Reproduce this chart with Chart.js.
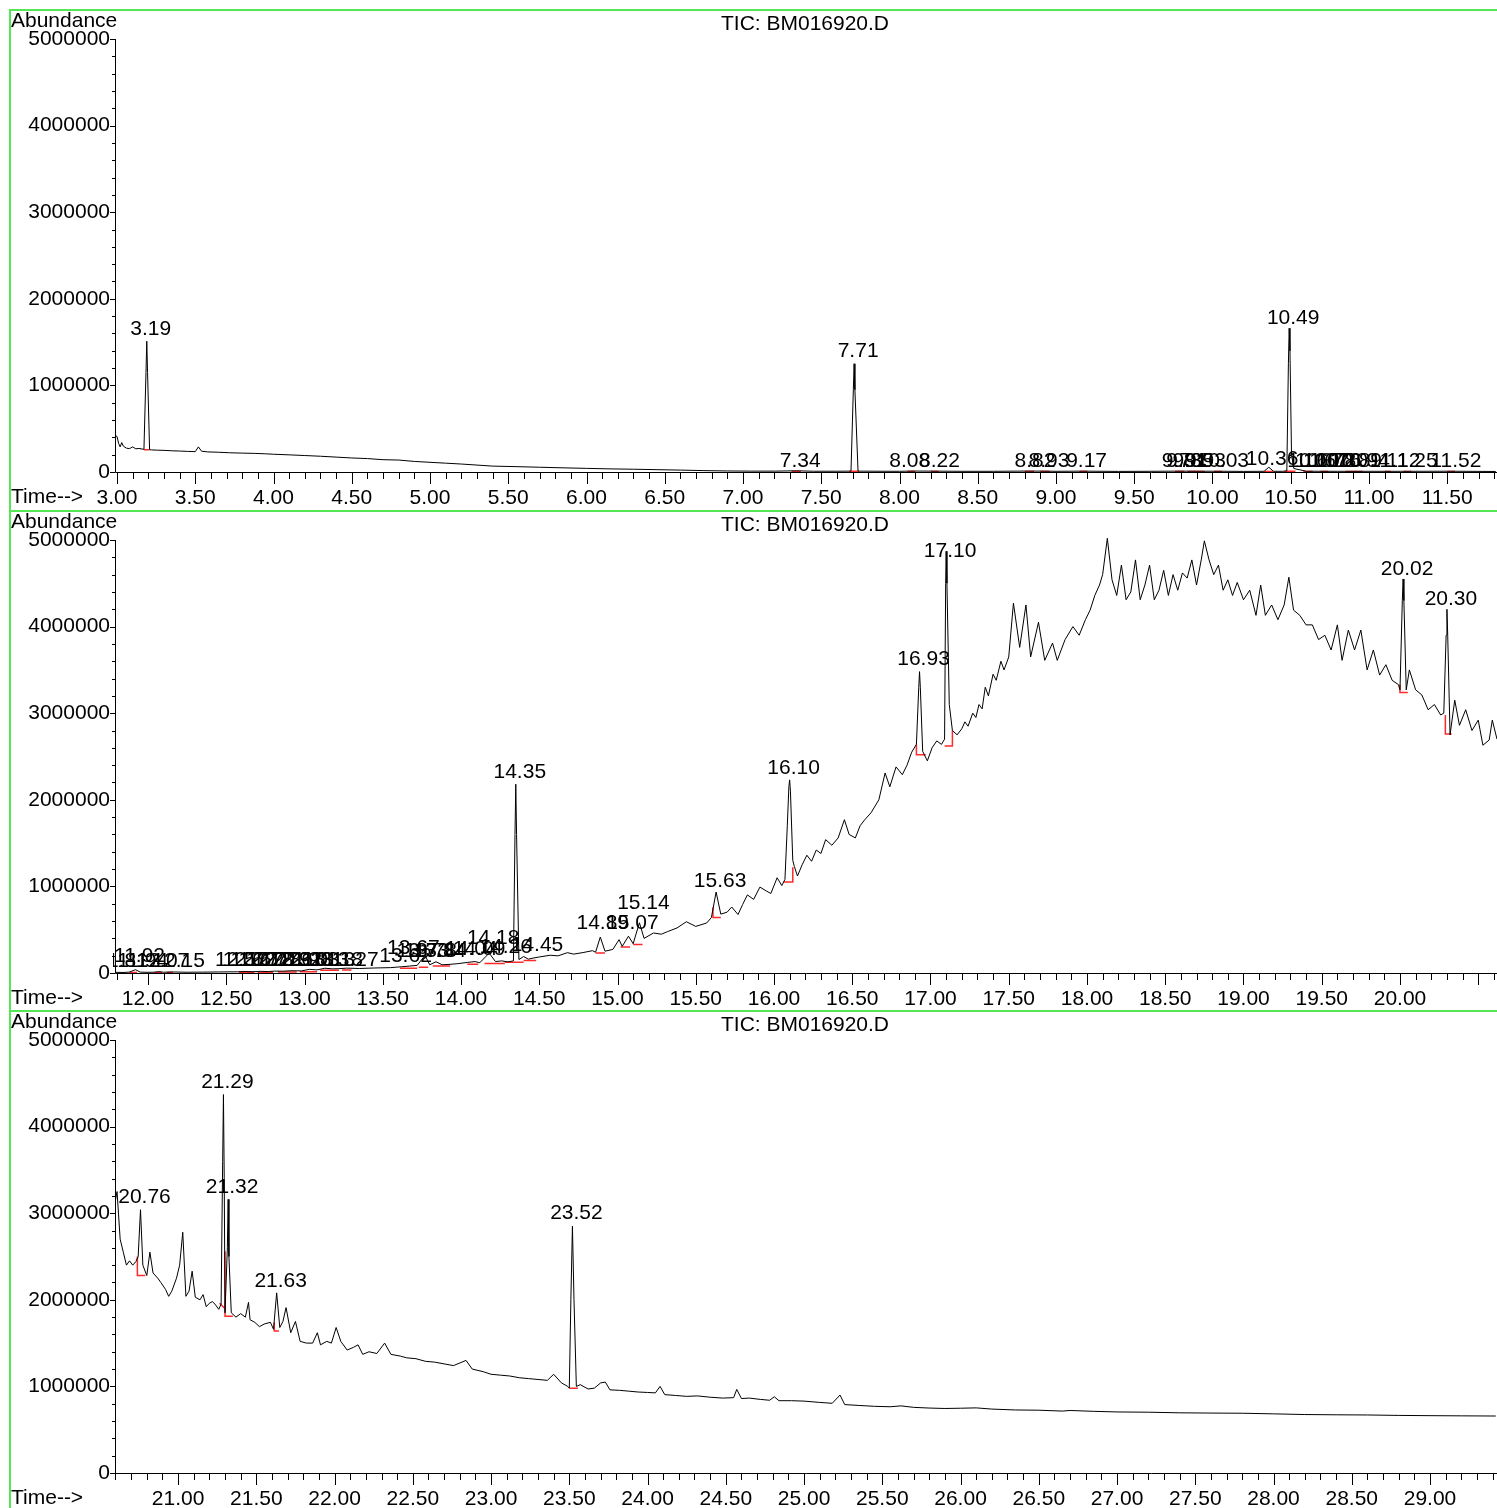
<!DOCTYPE html>
<html>
<head>
<meta charset="utf-8">
<title>TIC: BM016920.D</title>
<script src="https://cdn.jsdelivr.net/npm/chart.js@4.4.0/dist/chart.umd.min.js"></script>
<style>
  html, body { margin: 0; padding: 0; background: #fff; overflow: hidden; width: 1497px; height: 1508px; }
  .panel { position: absolute; left: 9px; width: 1488px; height: 499px; border-top: 2px solid #55e655; border-left: 2px solid #55e655; }
  .panel canvas { display: block; }
</style>
</head>
<body>
<div class="panel" style="top:9px"><canvas id="tic1" width="1486" height="498"></canvas></div>
<div class="panel" style="top:510px"><canvas id="tic2" width="1486" height="498"></canvas></div>
<div class="panel" style="top:1010px"><canvas id="tic3" width="1486" height="498"></canvas></div>

<script>
// ---- data (time in min, abundance in counts) ----

const yTickValues = [0, 1000000, 2000000, 3000000, 4000000, 5000000];

// Panel 1: 3.0 - 11.8 min
const p1Ticks = [3.0, 3.5, 4.0, 4.5, 5.0, 5.5, 6.0, 6.5, 7.0, 7.5, 8.0, 8.5, 9.0, 9.5, 10.0, 10.5, 11.0, 11.5];
const p1Time = [2.99, 3.00, 3.01, 3.02, 3.03, 3.04, 3.06, 3.08, 3.10, 3.12, 3.14, 3.16, 3.172, 3.185, 3.19, 3.195, 3.208,
  3.22, 3.26, 3.30, 3.35, 3.40, 3.45, 3.50, 3.52, 3.54, 3.58, 3.65, 3.72, 3.80, 3.88, 3.95, 4.00,
  4.10, 4.20, 4.30, 4.40, 4.50, 4.60, 4.70, 4.80, 4.90, 5.00, 5.10, 5.20, 5.30, 5.40, 5.55, 5.70,
  5.85, 6.00, 6.15, 6.30, 6.45, 6.60, 6.75, 6.90, 7.05, 7.20, 7.34, 7.45, 7.60, 7.69, 7.705, 7.71, 7.715, 7.735,
  7.85, 8.00, 8.08, 8.22, 8.40, 8.60, 8.82, 8.93, 9.00, 9.17, 9.40, 9.60, 9.78, 9.93, 10.03, 10.20,
  10.33, 10.36, 10.39, 10.45, 10.475, 10.485, 10.49, 10.495, 10.505, 10.52, 10.60, 10.80, 11.00, 11.20, 11.52, 11.81];
const p1Abund = [420000, 410000, 330000, 290000, 340000, 300000, 275000, 270000, 290000, 268000, 272000, 265000, 262000, 1150000, 1510000, 1150000, 258000,
  255000, 252000, 250000, 245000, 242000, 238000, 235000, 290000, 240000, 232000, 228000, 222000, 218000, 215000, 210000, 205000,
  198000, 190000, 182000, 172000, 162000, 155000, 142000, 138000, 122000, 112000, 102000, 92000, 80000, 68000, 62000, 55000,
  48000, 42000, 36000, 32000, 27000, 22000, 16000, 12000, 10000, 10000, 14000, 9000, 9000, 10000, 950000, 1250000, 950000, 10000,
  9000, 8000, 11000, 10000, 8000, 8000, 11000, 10000, 8000, 10000, 7000, 8000, 10000, 9000, 9000, 7000,
  8000, 55000, 8000, 8000, 12000, 1250000, 1660000, 1400000, 200000, 40000, 9000, 8000, 8000, 8000, 9000, 6000];
const p1LabelText = ['3.19', '7.34', '7.71', '8.08', '8.22', '8.82', '8.93', '9.17', '9.78', '9.81', '9.85', '9.93', '10.03',
  '10.36', '10.49', '10.60', '10.67', '10.72', '10.76', '10.80', '10.89', '10.94', '11.12', '11.25', '11.52'];
const p1LabelTime = [3.19, 7.34, 7.71, 8.04, 8.23, 8.84, 8.93, 9.17, 9.78, 9.81, 9.85, 9.93, 10.04,
  10.355, 10.49, 10.62, 10.67, 10.72, 10.76, 10.80, 10.89, 10.94, 11.14, 11.25, 11.53];
const p1LabelLevel = [1580000, 58000, 1330000, 58000, 58000, 58000, 58000, 58000, 58000, 58000, 58000, 58000, 58000,
  81000, 1710000, 58000, 58000, 58000, 58000, 58000, 58000, 58000, 58000, 58000, 58000];
// red integration baselines, polylines split by null
const p1RedTime = [3.172, 3.208, null, 7.31, 7.37, null, 7.68, 7.74, null, 8.05, 8.10, null, 8.20, 8.25, null,
  8.80, 8.86, null, 8.90, 8.96, null, 9.15, 9.20, null, 9.76, 9.82, null, 9.84, 9.95, null, 10.01, 10.06, null,
  10.33, 10.39, null, 10.46, 10.53, null, 10.58, 10.64, null, 10.69, 10.74, null, 10.85, 10.96, null,
  11.10, 11.14, null, 11.22, 11.27, null, 11.50, 11.55];
const p1RedAbund = [258000, 258000, null, 6000, 6000, null, 9000, 9000, null, 6000, 6000, null, 6000, 6000, null,
  6000, 6000, null, 6000, 6000, null, 6000, 6000, null, 6000, 6000, null, 6000, 6000, null, 6000, 6000, null,
  7000, 7000, null, 8000, 8000, null, 6000, 6000, null, 6000, 6000, null, 6000, 6000, null,
  6000, 6000, null, 6000, 6000, null, 6000, 6000];

// Panel 2: 11.8 - 20.6 min
const p2Ticks = [12.0, 12.5, 13.0, 13.5, 14.0, 14.5, 15.0, 15.5, 16.0, 16.5, 17.0, 17.5, 18.0, 18.5, 19.0, 19.5, 20.0];
const p2Time = [11.79, 11.84, 11.88, 11.92, 11.95, 12.00, 12.04, 12.07, 12.10, 12.15, 12.25, 12.35, 12.45, 12.57, 12.62,
  12.67, 12.72, 12.77, 12.81, 12.86, 12.92, 12.98, 13.03, 13.08, 13.13, 13.18, 13.22, 13.27, 13.35, 13.45, 13.55,
  13.62, 13.67, 13.72, 13.77, 13.80, 13.84, 13.88, 13.93, 13.98, 14.04, 14.09, 14.12, 14.18, 14.22, 14.26, 14.30,
  14.335, 14.345, 14.35, 14.355, 14.37, 14.40, 14.43, 14.46, 14.50, 14.57, 14.62, 14.68, 14.72, 14.78, 14.84, 14.86, 14.89, 14.92,
  14.97, 15.01, 15.03, 15.07, 15.10, 15.14, 15.17, 15.23, 15.28, 15.32, 15.38, 15.44, 15.50, 15.57, 15.60, 15.63,
  15.66, 15.70, 15.73, 15.77, 15.80, 15.83, 15.87, 15.91, 15.95, 15.98, 16.02, 16.05, 16.07, 16.085, 16.095, 16.10, 16.105, 16.12, 16.13, 16.15,
  16.18, 16.21, 16.24, 16.27, 16.30, 16.33, 16.37, 16.41, 16.45, 16.48, 16.52, 16.55, 16.58, 16.62, 16.67, 16.71,
  16.74, 16.78, 16.82, 16.85, 16.88, 16.91, 16.925, 16.93, 16.935, 16.95, 16.98, 17.01, 17.04, 17.07, 17.09, 17.097, 17.10, 17.105, 17.12, 17.14,
  17.17, 17.20, 17.22, 17.24, 17.27, 17.29, 17.31, 17.33, 17.35, 17.37, 17.40, 17.42, 17.45, 17.47, 17.50, 17.53,
  17.57, 17.61, 17.64, 17.69, 17.73, 17.78, 17.81, 17.86, 17.91, 17.95, 17.99, 18.02, 18.05, 18.08, 18.10, 18.13,
  18.16, 18.19, 18.22, 18.25, 18.28, 18.31, 18.34, 18.37, 18.40, 18.43, 18.46, 18.49, 18.52, 18.55, 18.58, 18.61,
  18.64, 18.67, 18.70, 18.73, 18.75, 18.78, 18.81, 18.84, 18.87, 18.90, 18.93, 18.96, 19.00, 19.04, 19.08, 19.11,
  19.14, 19.18, 19.22, 19.26, 19.29, 19.32, 19.36, 19.40, 19.44, 19.48, 19.52, 19.56, 19.60, 19.63, 19.67, 19.71,
  19.75, 19.79, 19.83, 19.87, 19.91, 19.95, 19.99, 20.00, 20.015, 20.02, 20.025, 20.04, 20.06, 20.10, 20.14, 20.18,
  20.22, 20.26, 20.28, 20.295, 20.30, 20.305, 20.32, 20.35, 20.38, 20.42, 20.46, 20.50, 20.53, 20.57, 20.59, 20.62];
const p2Abund = [8000, 6000, 10000, 38000, 10000, 8000, 9000, 15000, 9000, 12000, 9000, 10000, 12000, 14000, 17000,
  15000, 19000, 17000, 22000, 21000, 26000, 24000, 42000, 36000, 55000, 48000, 50000, 56000, 52000, 58000, 62000,
  72000, 80000, 88000, 205000, 95000, 130000, 95000, 100000, 108000, 122000, 132000, 118000, 230000, 132000, 140000, 128000,
  140000, 1600000, 2180000, 1600000, 155000, 190000, 160000, 172000, 185000, 205000, 198000, 235000, 218000, 236000, 258000, 240000, 415000, 252000,
  272000, 385000, 308000, 425000, 338000, 580000, 400000, 462000, 448000, 478000, 520000, 592000, 538000, 578000, 640000, 935000,
  680000, 702000, 762000, 675000, 792000, 902000, 850000, 992000, 948000, 918000, 1100000, 1010000, 1080000, 1700000, 2150000, 2230000, 2100000, 1300000, 1230000, 1120000,
  1250000, 1360000, 1290000, 1420000, 1380000, 1540000, 1475000, 1560000, 1770000, 1600000, 1560000, 1700000, 1770000, 1850000, 2000000, 2310000,
  2150000, 2380000, 2290000, 2400000, 2550000, 2640000, 3300000, 3480000, 3300000, 2560000, 2450000, 2600000, 2680000, 2640000, 2700000, 4500000, 4870000, 4500000, 3100000, 2800000,
  2750000, 2820000, 2900000, 2850000, 3000000, 2950000, 3100000, 3050000, 3300000, 3200000, 3450000, 3380000, 3600000, 3500000, 3650000, 4270000,
  3760000, 4250000, 3650000, 4050000, 3610000, 3810000, 3610000, 3850000, 4000000, 3900000, 4080000, 4190000, 4360000, 4480000, 4600000, 5020000,
  4540000, 4360000, 4710000, 4310000, 4400000, 4770000, 4310000, 4480000, 4710000, 4310000, 4420000, 4650000, 4360000, 4600000, 4420000, 4620000,
  4560000, 4770000, 4480000, 4770000, 4990000, 4770000, 4600000, 4710000, 4420000, 4540000, 4360000, 4510000, 4310000, 4420000, 4130000, 4480000,
  4130000, 4250000, 4080000, 4250000, 4570000, 4190000, 4130000, 4020000, 4020000, 3850000, 3900000, 3730000, 4020000, 3610000, 3960000, 3730000,
  3960000, 3500000, 3730000, 3440000, 3560000, 3380000, 3330000, 3270000, 4300000, 4550000, 4300000, 3270000, 3500000, 3270000, 3210000, 3040000,
  3100000, 2980000, 3000000, 3900000, 4200000, 3900000, 2750000, 3150000, 2860000, 3040000, 2800000, 2920000, 2630000, 2690000, 2920000, 2700000];
const p2LabelText = ['11.81', '11.92', '11.94', '12.07', '12.15', '12.57', '12.62', '12.67', '12.72', '12.77', '12.81', '12.86',
  '12.92', '12.98', '13.03', '13.13', '13.18', '13.27', '13.62', '13.67', '13.73', '13.78', '13.84', '14.04', '14.09', '14.18',
  '14.26', '14.35', '14.45', '14.89', '15.07', '15.14', '15.63', '16.10', '16.93', '17.10', '20.02', '20.30'];
const p2LabelTime = [11.81, 11.92, 11.94, 12.07, 12.17, 12.57, 12.62, 12.67, 12.72, 12.77, 12.81, 12.86,
  12.92, 12.98, 13.03, 13.13, 13.18, 13.28, 13.62, 13.67, 13.73, 13.78, 13.84, 14.04, 14.09, 14.18,
  14.26, 14.35, 14.46, 14.88, 15.07, 15.14, 15.63, 16.10, 16.93, 17.10, 20.02, 20.30];
const p2LabelLevel = [69000, 125000, 69000, 69000, 69000, 81000, 81000, 81000, 81000, 81000, 81000, 81000,
  81000, 81000, 81000, 81000, 81000, 81000, 127000, 219000, 185000, 185000, 185000, 208000, 208000, 335000,
  231000, 2250000, 254000, 508000, 508000, 739000, 993000, 2300000, 3560000, 4800000, 4600000, 4250000];
const p2RedTime = [11.88, 11.93, null, 12.04, 12.09, null, 12.12, 12.16, null, 12.58, 12.68, null, 12.70, 12.80, null,
  12.83, 12.95, null, 12.97, 13.08, null, 13.10, 13.22, null, 13.24, 13.30, null, 13.61, 13.72, null, 13.73, 13.79, null,
  13.82, 13.93, null, 14.04, 14.11, null, 14.15, 14.28, null, 14.28, 14.40, null, 14.40, 14.48, null,
  14.86, 14.92, null, 15.02, 15.08, null, 15.10, 15.16, null, 15.61, 15.61, 15.66, null,
  16.06, 16.12, 16.12, null, 16.91, 16.91, 16.97, null, 17.09, 17.14, 17.14, null,
  20.00, 20.00, 20.05, null, 20.29, 20.29, 20.33];
const p2RedAbund = [5000, 5000, null, 5000, 5000, null, 5000, 5000, null, 8000, 8000, null, 10000, 10000, null,
  12000, 12000, null, 15000, 15000, null, 32000, 32000, null, 35000, 35000, null, 55000, 55000, null, 65000, 65000, null,
  80000, 80000, null, 100000, 100000, null, 110000, 110000, null, 125000, 125000, null, 145000, 145000, null,
  230000, 230000, null, 300000, 300000, null, 330000, 330000, null, 760000, 640000, 640000, null,
  1050000, 1050000, 1220000, null, 2640000, 2520000, 2520000, null, 2620000, 2620000, 2800000, null,
  3330000, 3240000, 3240000, null, 2980000, 2760000, 2760000];

// Panel 3: 20.6 - 29.4 min
const p3Ticks = [21.0, 21.5, 22.0, 22.5, 23.0, 23.5, 24.0, 24.5, 25.0, 25.5, 26.0, 26.5, 27.0, 27.5, 28.0, 28.5, 29.0];
const p3Time = [20.60, 20.61, 20.63, 20.65, 20.67, 20.69, 20.71, 20.73, 20.745, 20.76, 20.775, 20.80, 20.82, 20.84, 20.87,
  20.89, 20.92, 20.94, 20.96, 20.99, 21.01, 21.03, 21.05, 21.07, 21.09, 21.11, 21.14, 21.16, 21.18, 21.20, 21.22,
  21.24, 21.26, 21.275, 21.285, 21.29, 21.295, 21.30, 21.315, 21.32, 21.325, 21.34, 21.37, 21.40, 21.43, 21.45, 21.46, 21.49, 21.52, 21.55, 21.59,
  21.61, 21.63, 21.65, 21.67, 21.69, 21.72, 21.75, 21.78, 21.82, 21.86, 21.89, 21.91, 21.95, 21.98, 22.01, 22.04,
  22.08, 22.12, 22.15, 22.18, 22.22, 22.27, 22.32, 22.36, 22.42, 22.46, 22.52, 22.58, 22.64, 22.70, 22.76, 22.84,
  22.88, 22.95, 23.00, 23.06, 23.12, 23.18, 23.24, 23.30, 23.36, 23.40, 23.45, 23.49, 23.50, 23.51, 23.52, 23.53, 23.545, 23.57,
  23.62, 23.66, 23.70, 23.73, 23.76, 23.82, 23.88, 23.94, 24.00, 24.05, 24.08, 24.11, 24.18, 24.25, 24.32, 24.40,
  24.48, 24.55, 24.57, 24.60, 24.65, 24.72, 24.78, 24.81, 24.84, 24.92, 25.00, 25.10, 25.18, 25.23, 25.26, 25.35,
  25.45, 25.55, 25.62, 25.70, 25.80, 25.90, 26.00, 26.10, 26.20, 26.35, 26.50, 26.65, 26.70, 26.85, 27.00, 27.20,
  27.40, 27.60, 27.80, 28.00, 28.20, 28.40, 28.60, 28.80, 29.00, 29.20, 29.42];
const p3Abund = [3150000, 3250000, 2700000, 2550000, 2400000, 2450000, 2400000, 2440000, 2500000, 3040000, 2400000, 2280000, 2550000, 2310000, 2250000,
  2200000, 2120000, 2040000, 2100000, 2250000, 2400000, 2780000, 2040000, 2100000, 2330000, 2030000, 2000000, 2060000, 1920000, 1960000, 1980000,
  1940000, 1890000, 1950000, 3600000, 4370000, 3400000, 1850000, 2600000, 3160000, 2500000, 1850000, 1800000, 1840000, 1800000, 1970000, 1770000, 1740000, 1690000, 1720000, 1740000,
  1660000, 2080000, 1680000, 1750000, 1910000, 1620000, 1750000, 1520000, 1500000, 1500000, 1620000, 1480000, 1520000, 1500000, 1680000, 1520000,
  1420000, 1450000, 1480000, 1370000, 1400000, 1380000, 1500000, 1370000, 1350000, 1330000, 1320000, 1290000, 1280000, 1260000, 1240000, 1300000,
  1200000, 1170000, 1140000, 1130000, 1120000, 1100000, 1090000, 1080000, 1070000, 1140000, 1040000, 1000000, 980000, 2000000, 2850000, 2000000, 1000000, 1020000,
  970000, 980000, 1040000, 1050000, 960000, 955000, 945000, 935000, 930000, 925000, 1000000, 905000, 895000, 885000, 890000, 875000,
  865000, 870000, 965000, 860000, 865000, 850000, 840000, 880000, 835000, 835000, 830000, 815000, 805000, 900000, 790000, 780000,
  770000, 765000, 775000, 758000, 750000, 745000, 748000, 752000, 738000, 728000, 725000, 715000, 722000, 712000, 705000, 702000,
  695000, 692000, 690000, 683000, 675000, 672000, 670000, 665000, 662000, 660000, 658000];
const p3LabelText = ['20.76', '21.29', '21.32', '21.63', '23.52'];
const p3LabelTime = [20.76, 21.29, 21.32, 21.63, 23.52];
const p3LabelLevel = [3120000, 4440000, 3230000, 2150000, 2930000];
const p3RedTime = [20.74, 20.74, 20.79, null, 21.265, 21.30, null, 21.30, 21.30, 21.35, null,
  21.615, 21.615, 21.645, null, 23.50, 23.555];
const p3RedAbund = [2500000, 2280000, 2280000, null, 1960000, 1900000, null, 2560000, 1810000, 1810000, null,
  1740000, 1640000, 1640000, null, 980000, 980000];

// ---- drawing ----

const FONT = '"Liberation Sans", Arial, Helvetica, sans-serif';
Chart.defaults.font.family = FONT;
Chart.defaults.font.size = 21;
Chart.defaults.color = '#000';

function toPoints(times, values) {
    return times.map((t, i) => ({ x: t === null ? NaN : t, y: values[i] }));
}

// axis lines, minor/major tick marks, header texts and peak labels
const ticDecor = {
    id: 'ticDecor',
    afterDraw(chart, args, opts) {
        const { ctx, chartArea: a } = chart;
        const x = chart.scales.x;
        const y = chart.scales.y;
        ctx.save();
        ctx.strokeStyle = '#000';
        ctx.lineWidth = 1;
        ctx.beginPath();
        ctx.moveTo(a.left + 0.5, a.top);
        ctx.lineTo(a.left + 0.5, a.bottom + 0.5);
        ctx.lineTo(a.right, a.bottom + 0.5);
        for (let i = Math.ceil(x.min * 10); i <= Math.floor(x.max * 10); i++) {
            const px = Math.round(x.getPixelForValue(i / 10)) + 0.5;
            ctx.moveTo(px, a.bottom);
            ctx.lineTo(px, a.bottom + (i % 5 === 0 ? 12 : 7));
        }
        for (let v = 0; v <= 5000000; v += 200000) {
            const py = Math.round(y.getPixelForValue(v)) + 0.5;
            ctx.moveTo(a.left - (v % 1000000 === 0 ? 5 : 3), py);
            ctx.lineTo(a.left, py);
        }
        ctx.stroke();

        ctx.fillStyle = '#000';
        ctx.font = '21px ' + FONT;
        ctx.textBaseline = 'middle';
        ctx.textAlign = 'left';
        ctx.fillText('Abundance', 0, 10);
        ctx.fillText('Time-->', 0, 486);
        ctx.textAlign = 'center';
        ctx.fillText('TIC: BM016920.D', 794, 13);

        // retention-time labels over the peaks, cut at the y axis
        ctx.beginPath();
        ctx.rect(a.left - 2, 0, chart.width, a.bottom);
        ctx.clip();
        ctx.textBaseline = 'alphabetic';
        opts.text.forEach((txt, i) => {
            const px = x.getPixelForValue(opts.time[i]) + 4;
            const py = y.getPixelForValue(opts.level[i]);
            ctx.fillText(txt, px, py);
        });
        ctx.restore();
    }
};

function drawPanel(id, xMin, xMax, xTicks, times, abund, redT, redV, labels) {
    const ctx = document.getElementById(id).getContext('2d');
    return new Chart(ctx, {
        type: 'line',
        data: {
            datasets: [{
                data: toPoints(times, abund),
                borderColor: '#000',
                borderWidth: 1,
                pointRadius: 0,
                tension: 0,
                clip: false
            }, {
                data: toPoints(redT, redV),
                borderColor: '#ff2a2a',
                borderWidth: 1.5,
                pointRadius: 0,
                tension: 0,
                spanGaps: false,
                clip: false
            }]
        },
        options: {
            responsive: false,
            animation: false,
            events: [],
            layout: { padding: { top: 28, left: 0, right: 0, bottom: 0 } },
            plugins: {
                legend: { display: false },
                tooltip: { enabled: false },
                ticDecor: labels
            },
            scales: {
                x: {
                    type: 'linear',
                    min: xMin,
                    max: xMax,
                    grid: { display: false, drawTicks: false },
                    border: { display: false },
                    ticks: { padding: 14, autoSkip: false, maxRotation: 0, callback: v => v.toFixed(2) },
                    afterBuildTicks: s => { s.ticks = xTicks.map(v => ({ value: v })); },
                    afterFit: s => { s.height = 37; }
                },
                y: {
                    type: 'linear',
                    min: 0,
                    max: 5000000,
                    grid: { display: false, drawTicks: false },
                    border: { display: false },
                    ticks: { padding: 5, callback: v => String(v) },
                    afterBuildTicks: s => { s.ticks = yTickValues.map(v => ({ value: v })); },
                    afterFit: s => { s.width = 104; }
                }
            }
        },
        plugins: [ticDecor]
    });
}

drawPanel('tic1', 2.987, 11.818, p1Ticks, p1Time, p1Abund, p1RedTime, p1RedAbund,
    { text: p1LabelText, time: p1LabelTime, level: p1LabelLevel });
drawPanel('tic2', 11.789, 20.620, p2Ticks, p2Time, p2Abund, p2RedTime, p2RedAbund,
    { text: p2LabelText, time: p2LabelTime, level: p2LabelLevel });
drawPanel('tic3', 20.597, 29.428, p3Ticks, p3Time, p3Abund, p3RedTime, p3RedAbund,
    { text: p3LabelText, time: p3LabelTime, level: p3LabelLevel });
</script>
</body>
</html>
